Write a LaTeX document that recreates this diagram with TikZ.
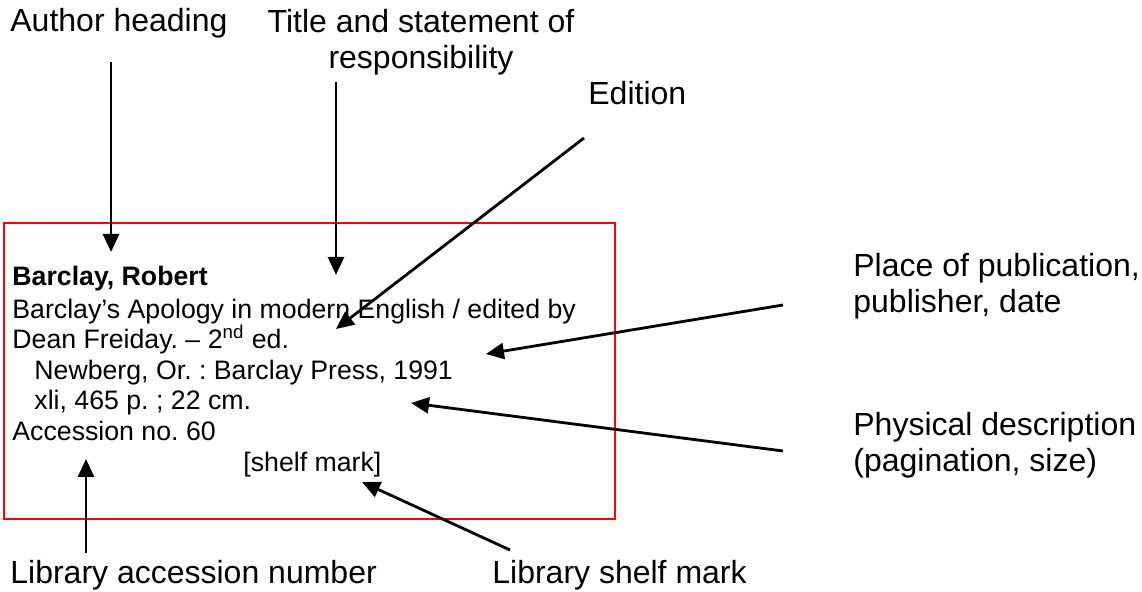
\documentclass[tikz,border=0pt]{standalone}
\usepackage{fontspec}
\setmainfont{Liberation Sans}
\usetikzlibrary{arrows.meta}
\frenchspacing

\begin{document}
\begin{tikzpicture}[x=0.5pt,y=-0.5pt,
        tag node/.style={inner sep=0pt,font=\fontsize{16}{18}\selectfont},
        card node/.style={inner sep=0pt,anchor=base west,font=\fontsize{13.35}{15.3}\selectfont},
        pointer/.style={-{Triangle[length=9pt,width=8pt]},line width=1.4pt}]

    \useasboundingbox (0,0) rectangle (1142,592);

    % the catalogue card
    \draw[red,line width=1pt] (4,223) rectangle (615,519);
    \node[card node] (head)  at (12,286)  {\textbf{Barclay, Robert}};
    \node[card node] (ttl)   at (12,319)  {Barclay’s Apology in modern English / edited by};
    \node[card node] (ed)    at (12,349)  {Dean Freiday. – 2\textsuperscript{nd} ed.};
    \node[card node] (pub)   at (34,380)  {Newberg, Or. : Barclay Press, 1991};
    \node[card node] (phys)  at (34,410)  {xli, 465 p. ; 22 cm.};
    \node[card node] (acc)   at (12,441)  {Accession no. 60};
    \node[card node] (shelf) at (243,472) {[shelf mark]};

    % the parts of the entry (base = last line)
    \node[tag node,anchor=base west] (t1) at (10,32) {Author heading};
    \node[tag node,anchor=base,align=center] (t2) at (421,69) {Title and statement of\\responsibility};
    \node[tag node,anchor=base west] (t3) at (588,105) {Edition};
    \node[tag node,anchor=base west,align=left] (t4) at (853,313) {Place of publication,\\publisher, date};
    \node[tag node,anchor=base west,align=left] (t5) at (853,472) {Physical description\\(pagination, size)};
    \node[tag node,anchor=base west] (t6) at (10,584) {Library accession number};
    \node[tag node,anchor=base west] (t7) at (492,584) {Library shelf mark};

    \coordinate (a1) at (111,62);  \coordinate (b1) at (111,252);
    \coordinate (a2) at (336,82);  \coordinate (b2) at (336,275);
    \coordinate (a3) at (584,138); \coordinate (b3) at (336,329);
    \coordinate (a4) at (783,305); \coordinate (b4) at (486,354);
    \coordinate (a5) at (783,451); \coordinate (b5) at (411,403);
    \coordinate (a6) at (86,553);  \coordinate (b6) at (86,459);
    \coordinate (a7) at (510,550); \coordinate (b7) at (362,482);

    \path[pointer]
    (a1) edge (b1)
    (a2) edge (b2)
    (a3) edge (b3)
    (a4) edge (b4)
    (a5) edge (b5)
    (a6) edge (b6)
    (a7) edge (b7);
\end{tikzpicture}
\end{document}
